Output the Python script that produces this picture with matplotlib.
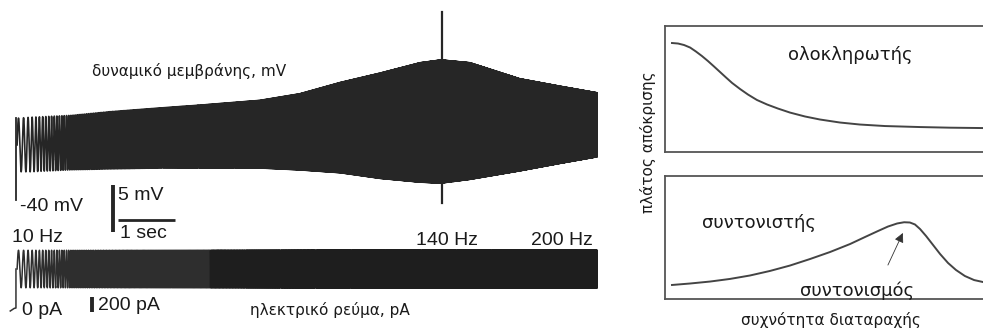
import numpy as np
import matplotlib
matplotlib.use("Agg")
import matplotlib.pyplot as plt

plt.rcParams['agg.path.chunksize'] = 20000

# ---------------- data ----------------
# membrane potential envelope (s, mV)
env_t = [0, 0.23, 0.58, 0.93, 1.63, 2.51, 3.21, 4.26, 4.96, 5.67, 6.37, 7.07, 7.44, 7.95, 8.82, 9.53, 10.18]
v_upper = [-31.3, -31.2, -31.1, -31.0, -30.6, -30.2, -29.9, -29.4, -28.7, -27.5, -26.5, -25.4, -25.1, -25.4, -27.1, -27.9, -28.6]
v_lower = [-37.0, -37.0, -36.9, -36.8, -36.7, -36.6, -36.6, -36.6, -36.8, -37.1, -37.7, -38.1, -38.2, -37.8, -36.9, -36.1, -35.4]
v_rest = -40.0
spike_t = 7.46
spike_v = [-40.3, -20.0]

# chirp stimulus (frequency labels)
freq_t = [0.0, 7.44, 10.18]
freq_hz = [10, 140, 200]
freq_labels = ["10 Hz", "140 Hz", "200 Hz"]

# injected current (pA)
i_offset = 520
i_amp = 250

# scale bars
bar_mv = 5
bar_s = 1
bar_pa = 200

# schematic curves (relative units 0-100)
integ_x = [2.2, 4.1, 6.0, 7.9, 9.7, 11.6, 13.5, 15.4, 17.3, 19.2, 21.1, 23.6, 26.1, 28.9, 32.1,
           35.5, 39.3, 44.0, 48.7, 55.0, 61.3, 69.2, 80.2, 89.6, 100]
integ_y = [86.5, 86.1, 84.9, 82.9, 79.8, 76.2, 72.2, 67.9, 63.5, 59.1, 54.8, 50.0, 45.6, 41.3, 37.7,
           34.5, 31.3, 28.2, 25.8, 23.4, 21.8, 20.6, 19.8, 19.3, 19.0]
reson_x = [2.2, 7.9, 14.2, 20.4, 26.7, 33.0, 39.3, 45.6, 51.9, 58.2, 62.9, 67.0, 70.1, 73.0, 75.2,
           77.0, 78.6, 80.2, 82.1, 84.3, 86.5, 89.0, 91.5, 94.3, 97.2, 100]
reson_y = [11.4, 12.6, 14.2, 16.3, 19.1, 22.8, 27.2, 32.5, 38.2, 44.7, 50.4, 55.3, 58.9, 61.4, 62.4,
           62.2, 60.6, 56.9, 51.2, 43.9, 36.6, 29.3, 23.6, 18.7, 15.4, 13.8]
arrow_from = (70.1, 27.6)
arrow_to = (74.8, 53.7)

# ---------------- figure ----------------
W, H = 983, 329
fig = plt.figure(figsize=(W / 100, H / 100), dpi=100)

def px_axes(x0, y0, x1, y1):
    return fig.add_axes([x0 / W, 1 - y1 / H, (x1 - x0) / W, (y1 - y0) / H])

def ftext(x, y, s, **kw):
    return fig.text(x / W, 1 - y / H, s, **kw)

TXT = '#1a1a1a'
TRACE = '#262626'
NUM = dict(family=['Liberation Sans', 'DejaVu Sans'], fontsize=14, color=TXT, va='baseline')
GR = dict(family=['DejaVu Sans'], color=TXT, va='baseline')

xl = (-0.30, 10.23)
axv = px_axes(0, 0, 600, 240)
axv.set_xlim(*xl)
axv.set_ylim(-44.26, -18.72)
axv.axis('off')
axi = px_axes(0, 240, 600, 329)
axi.set_xlim(*xl)
axi.set_ylim(-280, 907)
axi.axis('off')

t_end = env_t[-1]
t = np.linspace(0, t_end, 300001)
dt = t[1] - t[0]
f = np.interp(t, freq_t, freq_hz)
phase = 2 * np.pi * np.cumsum(f) * dt
up = np.interp(t, env_t, v_upper)
lo = np.interp(t, env_t, v_lower)
v = (up + lo) / 2 + (up - lo) / 2 * np.sin(phase)

# membrane potential trace
axv.plot([-0.02, -0.02], [v_rest, v_upper[0]], color=TRACE, lw=1.3)
axv.plot(t, v, color=TRACE, lw=1.2)
axv.plot([spike_t, spike_t], spike_v, color=TRACE, lw=1.6)

# scale bars
axv.plot([1.68, 1.68], [-43.4, -43.4 + bar_mv], color=TRACE, lw=2.8, solid_capstyle='butt')
axv.plot([1.77, 1.77 + bar_s], [-42.1, -42.1], color=TRACE, lw=2.0, solid_capstyle='butt')

# current trace (slightly lighter print tone in the first part)
cur = i_offset + i_amp * np.sin(phase)
split = t < 3.39
axi.plot([-0.12, -0.05, -0.02, -0.02], [-40, -5, 0, i_offset], color='#333333', lw=1.1)
axi.plot(t[split], cur[split], color='#2e2e2e', lw=1.1)
axi.plot(t[~split], cur[~split], color='#1e1e1e', lw=1.2)
axi.plot([1.32, 1.32], [-53, -53 + bar_pa], color=TRACE, lw=2.8, solid_capstyle='butt')

# labels left
ftext(92, 76, "δυναμικό μεμβράνης, mV", fontsize=11, **GR)
ftext(20, 211, "-40 mV", **NUM)
ftext(118, 200, "5 mV", **NUM)
ftext(120, 238, "1 sec", **NUM)
ftext(12, 242, freq_labels[0], **NUM)
ftext(416, 245, freq_labels[1], **NUM)
ftext(531, 245, freq_labels[2], **NUM)
ftext(22, 315, "0 pA", **NUM)
ftext(98, 310, "200 pA", **NUM)
ftext(250, 315, "ηλεκτρικό ρεύμα, pA", fontsize=11, **GR)

# ---------------- right panels ----------------
BOX = '#555555'
CURVE = '#444444'
for (y0, y1, xs, ys) in [(26, 152, integ_x, integ_y), (176, 299, reson_x, reson_y)]:
    ax = px_axes(665, y0, 983, y1)
    ax.set_xlim(0, 100)
    ax.set_ylim(0, 100)
    ax.set_xticks([])
    ax.set_yticks([])
    ax.patch.set_alpha(0)
    ax.spines['right'].set_visible(False)
    for s in ['left', 'top', 'bottom']:
        ax.spines[s].set_color(BOX)
        ax.spines[s].set_linewidth(1.3)
    ax.plot(xs, ys, color=CURVE, lw=1.4, solid_joinstyle='round')
    last = ax

last.annotate('', xy=arrow_to, xytext=arrow_from,
              arrowprops=dict(arrowstyle='-|>', color='#333333', lw=0.6,
                              mutation_scale=14, shrinkA=0, shrinkB=0))

ftext(788, 60, "ολοκληρωτής", fontsize=13, **GR)
ftext(702, 228, "συντονιστής", fontsize=13, **GR)
ftext(800, 296, "συντονισμός", fontsize=13, **GR)
ftext(831, 325, "συχνότητα διαταραχής", fontsize=11, ha='center', **GR)
fig.text(648 / W, 1 - 142 / H, "πλάτος απόκρισης", family=['DejaVu Sans'], fontsize=11,
         color=TXT, rotation=90, ha='center', va='center')

fig.savefig('out.png', dpi=100)
